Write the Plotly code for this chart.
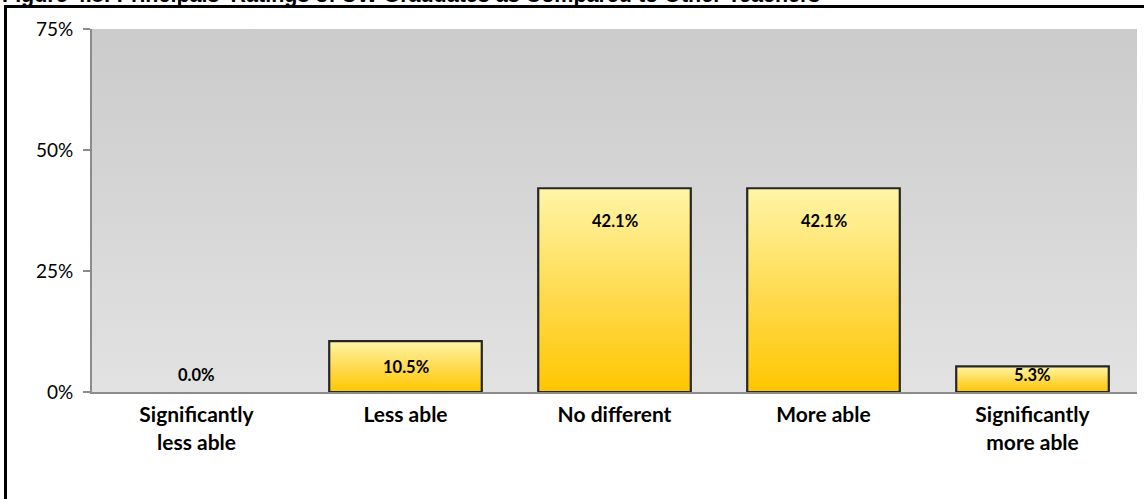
import plotly.graph_objects as go

# Survey data
categories = ["Significantly<br>less able", "Less able", "No different",
              "More able", "Significantly<br>more able"]
percentages = [0.0, 10.5, 42.1, 42.1, 5.3]
y_tick_values = [0, 25, 50, 75]
y_tick_labels = ["0%", "25%", "50%", "75%"]
title_text = "Figure 4.8: Principals' Ratings of UW Graduates as Compared to Other Teachers"

W, H = 1144, 499
M_L, M_R, M_T, M_B = 92, 7, 29, 107
plot_w = W - M_L - M_R
plot_h = H - M_T - M_B
y_max = 75
px_per_unit = plot_h / y_max

bar_half = 0.365
positions = list(range(len(categories)))
label_font = "Lato, Carlito, sans-serif"

fig = go.Figure()

# Plot area background gradient
fig.add_trace(go.Scatter(
    x=[-0.5, 4.5, 4.5, -0.5, -0.5], y=[0, 0, y_max, y_max, 0],
    mode="lines", line=dict(width=0), fill="toself",
    fillgradient=dict(type="vertical", colorscale=[[0, "#e2e2e2"], [1, "#cbcbcb"]]),
    hoverinfo="skip", showlegend=False,
))

# Gradient-filled bars with dark outlines
for i, v in zip(positions, percentages):
    if v <= 0:
        continue
    fig.add_trace(go.Scatter(
        x=[i - bar_half, i + bar_half, i + bar_half, i - bar_half, i - bar_half],
        y=[0, 0, v, v, 0],
        mode="lines", line=dict(width=2.2, color="#262626"), fill="toself",
        fillgradient=dict(type="vertical",
                          colorscale=[[0, "#ffc600"], [0.45, "#ffd94a"], [1, "#fff5a8"]]),
        hoverinfo="skip", showlegend=False,
    ))

# Value labels
for i, v in zip(positions, percentages):
    h_px = v * px_per_unit
    offset_px = max(h_px - min(33, h_px / 2), 17)
    fig.add_annotation(
        x=i, y=offset_px / px_per_unit, text=f"<b>{v:.1f}%</b>",
        showarrow=False, font=dict(family=label_font, size=16.5, color="#000000"),
        xanchor="center", yanchor="middle",
    )

# category boundary ticks
fig.add_trace(go.Scatter(
    x=[b for k in range(len(categories) + 1) for b in (k - 0.5, k - 0.5, None)],
    y=[v for k in range(len(categories) + 1) for v in (0, -1.3, None)],
    mode="lines", line=dict(color="#8c8c8c", width=1.5), cliponaxis=False,
    hoverinfo="skip", showlegend=False,
))

# Title (partly above the visible page)
fig.add_annotation(
    xref="paper", yref="paper", x=(0 - M_L) / plot_w, y=1,
    xanchor="left", yanchor="bottom", yshift=20,
    text=f"<b>{title_text}</b>", showarrow=False,
    font=dict(family="Liberation Sans, Arial, sans-serif", size=21.5, color="#000000"),
)

# Outer frame
fig.add_shape(
    type="rect", xref="paper", yref="paper",
    x0=(5.5 - M_L) / plot_w, x1=(W + 20 - M_L) / plot_w,
    y0=-1, y1=1 + (M_T - 6.5) / plot_h,
    line=dict(color="#000000", width=3), fillcolor="rgba(0,0,0,0)", layer="above",
)

fig.update_layout(
    width=W, height=H,
    margin=dict(l=M_L, r=M_R, t=M_T, b=M_B, pad=0),
    paper_bgcolor="#ffffff", plot_bgcolor="#ffffff",
)
fig.update_xaxes(
    range=[-0.5, 4.5], tickmode="array", tickvals=positions,
    ticktext=[f"<b>{c}</b>" for c in categories],
    tickfont=dict(family=label_font, size=21, color="#000000"),
    ticklabelstandoff=3,
    showgrid=False, zeroline=False, showline=True, linecolor="#8c8c8c", linewidth=2,
    ticks="", fixedrange=True,
)
fig.update_yaxes(
    range=[0, y_max], tickmode="array", tickvals=y_tick_values, ticktext=y_tick_labels,
    tickfont=dict(family=label_font, size=19, color="#000000"),
    ticklabelstandoff=6,
    showgrid=True, gridcolor="#8c8c8c", gridwidth=1.5, zeroline=False,
    showline=True, linecolor="#8c8c8c", linewidth=2,
    ticks="outside", ticklen=7, tickcolor="#8c8c8c", tickwidth=1.5, fixedrange=True,
    layer="below traces",
)

fig.write_html("out.html")
